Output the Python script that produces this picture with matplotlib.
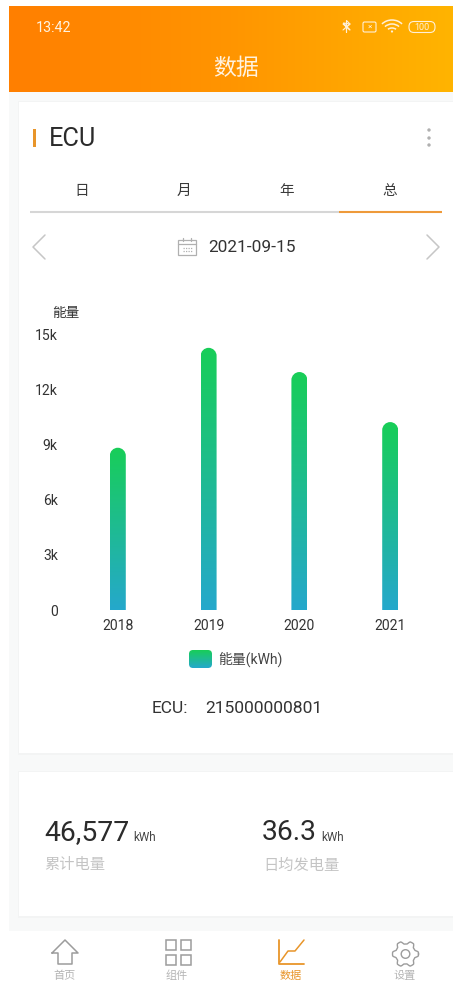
import numpy as np
import matplotlib
matplotlib.use("Agg")
import matplotlib.pyplot as plt
from matplotlib.colors import LinearSegmentedColormap
from matplotlib.patches import FancyBboxPatch, Rectangle, Circle, Arc
from matplotlib.path import Path

plt.rcParams['font.family'] = ['Roboto', 'Noto Sans CJK SC', 'DejaVu Sans']

years = ['2018', '2019', '2020', '2021']
energy = [8850, 14300, 12980, 10250]
yticks = [0, 3000, 6000, 9000, 12000, 15000]
ytick_labels = ['0', '3k', '6k', '9k', '12k', '15k']
tabs = ['日', '月', '年', '总']
nav_labels = ['首页', '组件', '数据', '设置']

W, H = 453, 982
fig = plt.figure(figsize=(W / 100, H / 100), dpi=100, facecolor='white')
ui = fig.add_axes([0, 0, 1, 1], zorder=0)
ui.set_xlim(0, W); ui.set_ylim(H, 0); ui.axis('off')

ORANGE = '#E8952A'
DARK = '#2b2b2b'

def L(xs, ys, color='#9a9a9a', lw=1.0, **kw):
    ui.plot(xs, ys, color=color, lw=lw, solid_capstyle='round', solid_joinstyle='round', **kw)

# page background
ui.add_patch(Rectangle((9, 91), W - 9, 840, fc='#f8f9f9', ec='none'))
# header gradient
hcm = LinearSegmentedColormap.from_list('h', ['#FF7F00', '#FF9500', '#FFB400'])
ui.imshow(np.linspace(0, 1, 256).reshape(1, -1), cmap=hcm, extent=(9, W, 91.5, 6), aspect='auto', zorder=1)
ui.set_xlim(0, W); ui.set_ylim(H, 0)
# cards
for (x, y, w, h) in [(19, 102, W - 19, 651), (19, 772, W - 19, 144)]:
    ui.add_patch(Rectangle((x - 1.5, y - 1), w + 2, h + 3, fc='#f3f4f4', ec='none', zorder=1))
    ui.add_patch(Rectangle((x, y), w, h, fc='white', ec='none', zorder=1.1))
ui.add_patch(Rectangle((9, 931), W - 9, 51, fc='white', ec='none', zorder=1))

# status bar & title
ui.text(36, 28, '13:42', fontsize=10.3, color='#FFF2DF', ha='left', va='center', zorder=3)
ui.text(236, 68, '数据', fontsize=16.5, color='#FFF2DF', ha='center', va='center', zorder=3)
SB = '#FFF0D8'
L([343, 350, 343.5, 350, 343], [24, 30, 23, 24, 30], SB, 0.8, zorder=3)
L([346.5, 346.5, 350, 346.5, 346.5], [32.5, 20.5, 24, 27, 32.5], SB, 0.8, zorder=3)
ui.add_patch(FancyBboxPatch((363, 22), 13, 10, boxstyle='round,pad=0,rounding_size=1.5', fc='none', ec=SB, lw=0.8, zorder=3))
ui.text(369.5, 27, '×', fontsize=6, color=SB, ha='center', va='center', zorder=3)
for r in (5, 9, 13):
    ui.add_patch(Arc((392, 33), 2 * r + 2, 2 * r, theta1=222, theta2=318, ec=SB, lw=1.1, zorder=3))
ui.add_patch(Circle((392, 31.5), 1.1, fc=SB, ec='none', zorder=3))
ui.add_patch(FancyBboxPatch((409, 21.5), 26, 11, boxstyle='round,pad=0,rounding_size=5', fc='none', ec=SB, lw=0.8, zorder=3))
ui.text(422, 27, '100', fontsize=6.5, color=SB, ha='center', va='center', zorder=3)

# card title
ui.add_patch(Rectangle((33, 129), 3, 18, fc=ORANGE, ec='none', zorder=3))
ui.text(49, 139, 'ECU', fontsize=18.3, color=DARK, ha='left', va='center', zorder=3)
for y in (130, 138, 145):
    ui.add_patch(Circle((429, y), 1.7, fc='#b0b0b0', ec='none', zorder=3))

# tabs
for x, s in zip([82, 184, 287, 390], tabs):
    ui.text(x, 191, s, fontsize=10.5, color='#3a3a3a', ha='center', va='center', zorder=3)
ui.plot([30, 339], [212, 212], color='#d6d6d6', lw=1.5, zorder=3, solid_capstyle='butt')
ui.plot([339, 442], [212, 212], color='#EE9A3A', lw=1.5, zorder=3, solid_capstyle='butt')

# date row
L([45, 33, 45], [235, 247, 259], '#c6c6c6', 1.1, zorder=3)
L([427, 439, 427], [235, 247, 259], '#c6c6c6', 1.1, zorder=3)
CAL = '#b0b0b0'
ui.add_patch(Rectangle((178, 240), 18, 15, fc='none', ec=CAL, lw=0.9, zorder=3))
L([178, 196], [244, 244], CAL, 0.9, zorder=3)
L([183, 183], [238, 241], CAL, 0.9, zorder=3)
L([191, 191], [238, 241], CAL, 0.9, zorder=3)
for yy in (247.5, 251):
    L([183, 193], [yy, yy], CAL, 0.9, zorder=3, ls=(0, (1, 1)))
ui.text(208, 247.5, '2021-09-15', fontsize=12.4, color='#333333', ha='left', va='center', zorder=3)

# chart
ax = fig.add_axes([72.4 / W, 1 - 610 / H, 363.2 / W, 275 / H], zorder=2)
ax.patch.set_alpha(0)
ax.set_xlim(-0.5, 3.5); ax.set_ylim(0, 15000)
for s in ax.spines.values():
    s.set_visible(False)
x = np.arange(len(years))
ax.set_xticks(x, years)
ax.set_yticks(yticks, ytick_labels)
ax.tick_params(axis='both', length=0, labelsize=10.1, labelcolor='#333333')
ax.tick_params(axis='x', pad=6.5)
ax.tick_params(axis='y', pad=10.5)
for lab in ax.get_yticklabels():
    lab.set_y(lab.get_position()[1])
bars = ax.bar(x, energy, width=0.176, color='none', edgecolor='none')
gcm = LinearSegmentedColormap.from_list('g', ['#18CE58', '#25A8CC'])
grad = np.linspace(0, 1, 256).reshape(-1, 1)
for b in bars:
    bx, bw, bh = b.get_x(), b.get_width(), b.get_height()
    im = ax.imshow(grad, cmap=gcm, extent=(bx, bx + bw, 0, bh), aspect='auto', zorder=2)
    rx = bw / 2
    ry = 15000 / 275 * (bw * 90.8 / 2)
    k = 0.5523
    p = Path([(bx, 0), (bx, bh - ry),
              (bx, bh - ry + k * ry), (bx + rx - k * rx, bh), (bx + rx, bh),
              (bx + rx + k * rx, bh), (bx + bw, bh - ry + k * ry), (bx + bw, bh - ry),
              (bx + bw, 0), (bx, 0)],
             [Path.MOVETO, Path.LINETO, Path.CURVE4, Path.CURVE4, Path.CURVE4,
              Path.CURVE4, Path.CURVE4, Path.CURVE4, Path.LINETO, Path.CLOSEPOLY])
    im.set_clip_path(p, ax.transData)
ax.set_xlim(-0.5, 3.5); ax.set_ylim(0, 15000)

ui.text(52, 312.5, '能量', fontsize=9.8, color='#333333', ha='left', va='center', zorder=3)

# legend
lg = ui.imshow(grad, cmap=gcm, extent=(189, 212, 668, 650), aspect='auto', zorder=3)
clip = FancyBboxPatch((189, 650), 23, 18, boxstyle='round,pad=0,rounding_size=4', fc='none', ec='none', transform=ui.transData)
ui.add_patch(clip); lg.set_clip_path(clip)
ui.set_xlim(0, W); ui.set_ylim(H, 0)
ui.text(218, 659.5, '能量(kWh)', fontsize=10, color='#444444', ha='left', va='center', zorder=3)
ui.text(151.5, 708.5, 'ECU:', fontsize=12.5, color='#333333', ha='left', va='center', zorder=3)
ui.text(205, 708.5, '215000000801', fontsize=12.5, color='#333333', ha='left', va='center', zorder=3)

# summary card
ui.text(44, 833, '46,577', fontsize=20.3, color=DARK, ha='left', va='center', zorder=3)
ui.text(133, 837.5, 'kWh', fontsize=8.5, color='#444444', ha='left', va='center', zorder=3)
ui.text(262, 833, '36.3', fontsize=20.3, color=DARK, ha='left', va='center', zorder=3)
ui.text(321, 837.5, 'kWh', fontsize=8.5, color='#444444', ha='left', va='center', zorder=3)
ui.text(44, 865.5, '累计电量', fontsize=11, color='#c4c4c4', ha='left', va='center', zorder=3)
ui.text(263, 865.5, '日均发电量', fontsize=11, color='#c4c4c4', ha='left', va='center', zorder=3)

# bottom nav
NG = '#9c9c9c'
L([52, 65, 78, 72, 72, 58, 58, 52], [953, 940, 953, 953, 964, 964, 953, 953], NG, 1.1, zorder=3)
for (bx, by) in [(166, 940), (181, 940), (166, 955), (181, 955)]:
    ui.add_patch(Rectangle((bx, by), 10, 9.5, fc='none', ec=NG, lw=1.1, zorder=3))
L([279, 279, 304], [940, 964, 964], ORANGE, 1.3, zorder=3)
L([280, 288, 295, 304], [962, 951, 951, 940], ORANGE, 1.1, zorder=3)
th = np.linspace(0, 2 * np.pi, 193)
rad = 11.5 + 1.5 * np.clip(1.6 * np.cos(6 * th), -1, 1)
ui.plot(405.5 + rad * np.cos(th), 954 + rad * np.sin(th), color=NG, lw=1.0, zorder=3)
ui.add_patch(Circle((405.5, 954), 4.3, fc='none', ec=NG, lw=1.0, zorder=3))
for xx, s, c in zip([65, 177, 291, 405], nav_labels, ['#b5b5b5', '#b5b5b5', ORANGE, '#b5b5b5']):
    ui.text(xx, 976, s, fontsize=8, color=c, ha='center', va='center', zorder=3)

fig.savefig('out.png', dpi=100, facecolor='white')
